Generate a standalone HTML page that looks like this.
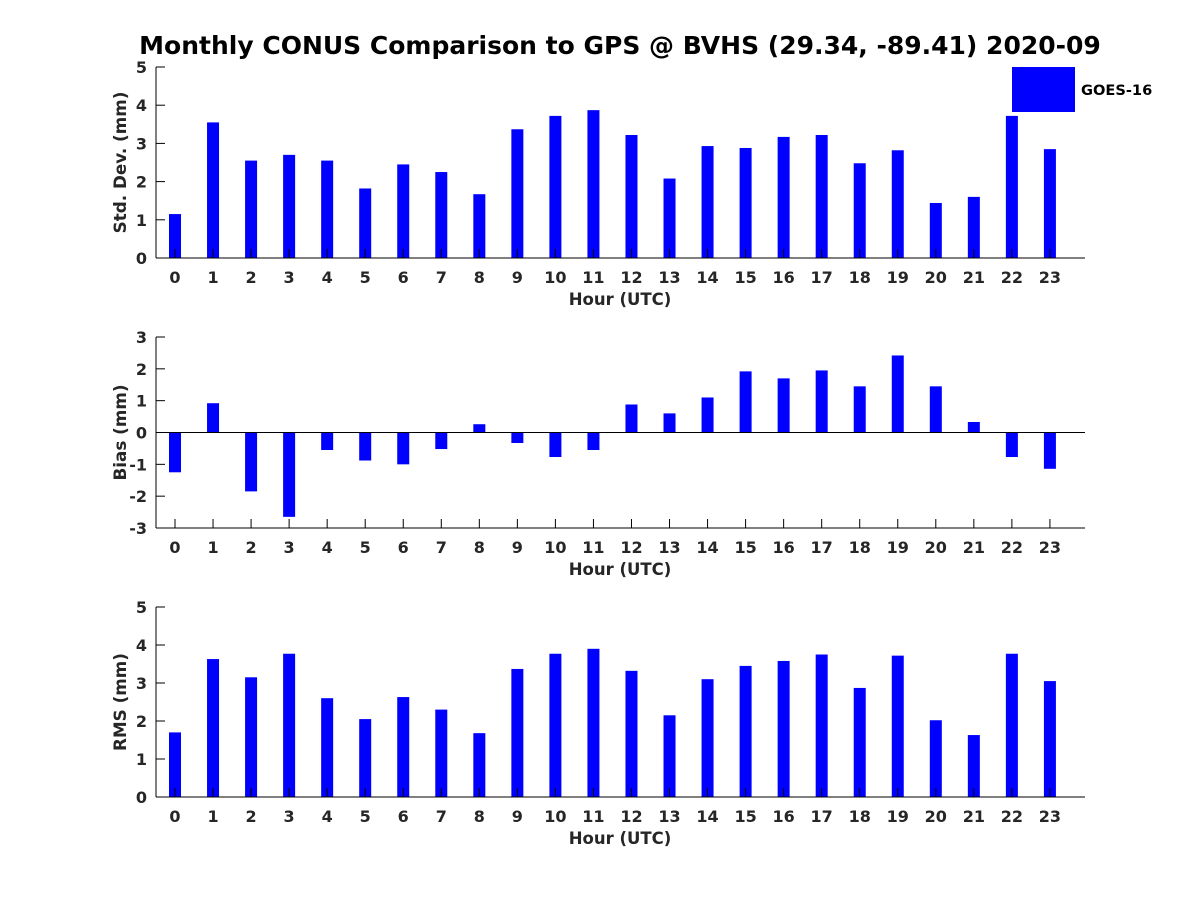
<!DOCTYPE html>
<html><head><meta charset="utf-8"><style>
body{margin:0;background:#fff;}
text{font-family:"DejaVu Sans","Liberation Sans",sans-serif;font-weight:bold;fill:#262626;}
</style></head><body>
<svg id="c" width="1200" height="900" xmlns="http://www.w3.org/2000/svg">
<text x="620" y="54" text-anchor="middle" font-size="25" style="fill:#000">Monthly CONUS Comparison to GPS @ BVHS (29.34, -89.41) 2020-09</text>
<rect x="1012" y="67" width="63" height="45" fill="#0000ff"/>
<text x="1081" y="95" font-size="14.6" style="fill:#000">GOES-16</text>
</svg>
<script>
const hours=[0,1,2,3,4,5,6,7,8,9,10,11,12,13,14,15,16,17,18,19,20,21,22,23];
const stdVals=[1.15,3.55,2.55,2.7,2.55,1.82,2.45,2.25,1.67,3.37,3.72,3.87,3.22,2.08,2.93,2.88,3.17,3.22,2.48,2.82,1.44,1.6,3.72,2.85];
const biasVals=[-1.25,0.92,-1.85,-2.65,-0.55,-0.88,-1.0,-0.52,0.26,-0.33,-0.77,-0.55,0.88,0.6,1.1,1.92,1.7,1.95,1.45,2.42,1.45,0.33,-0.77,-1.14];
const rmsVals=[1.7,3.63,3.15,3.77,2.6,2.05,2.63,2.3,1.68,3.37,3.77,3.9,3.32,2.15,3.1,3.45,3.58,3.75,2.87,3.72,2.02,1.63,3.77,3.05];
const stdTicks=[0,1,2,3,4,5];
const biasTicks=[-3,-2,-1,0,1,2,3];
const rmsTicks=[0,1,2,3,4,5];
const NS="http://www.w3.org/2000/svg";
const svg=document.getElementById('c');
function mk(t,a){const e=document.createElementNS(NS,t);for(const k in a)e.setAttribute(k,a[k]);svg.appendChild(e);return e;}
const X0=156,X1=1085;
function xs(h){return 175+h*38.04;}
function panel(key,vals,ticks,ymin,ymax,top,bot,title){
  const ys=v=>bot-(v-ymin)/(ymax-ymin)*(bot-top);
  const g=key;
  vals.forEach((v,i)=>{
    const y0=ys(0),y1=ys(v);
    const r=mk('rect',{x:xs(hours[i])-6,y:Math.min(y0,y1),width:12,height:Math.abs(y1-y0),fill:'#0000ff'});
    
    
  });
  const ax=mk('line',{x1:X0,y1:top,x2:X0,y2:bot,stroke:'#000','stroke-width':1});
  
  
  const bx=mk('line',{x1:X0,y1:bot,x2:X1,y2:bot,stroke:'#000','stroke-width':1});
  
  
  if(ymin<0){
    const zl=mk('line',{x1:X0,y1:ys(0),x2:X1,y2:ys(0),stroke:'#000','stroke-width':1});
    
    
  }
  ticks.forEach(t=>{
    const y=ys(t);
    mk('line',{x1:X0,y1:y,x2:X0+9,y2:y,stroke:'#000'});
    const tx=mk('text',{x:X0-9,y:y+6,'text-anchor':'end','font-size':16});
    tx.textContent=t;
    
    
  });
  hours.forEach(h=>{
    mk('line',{x1:xs(h),y1:bot,x2:xs(h),y2:bot-9,stroke:'#000'});
    const tx=mk('text',{x:xs(h),y:bot+25,'text-anchor':'middle','font-size':16});
    tx.textContent=h;
    
    
  });
  const xt=mk('text',{x:620,y:bot+47,'text-anchor':'middle','font-size':16.5});
  xt.textContent='Hour (UTC)';
  
  
  const cy=(top+bot)/2;
  const yt=mk('text',{x:126,y:cy,'text-anchor':'middle','font-size':16.8,transform:'rotate(-90 126 '+cy+')'});
  yt.textContent=title;
  
  
}
panel('std',stdVals,stdTicks,0,5,67,258,'Std. Dev. (mm)');
panel('bias',biasVals,biasTicks,-3,3,337,528,'Bias (mm)');
panel('rms',rmsVals,rmsTicks,0,5,607,797,'RMS (mm)');
</script>
</body></html>
